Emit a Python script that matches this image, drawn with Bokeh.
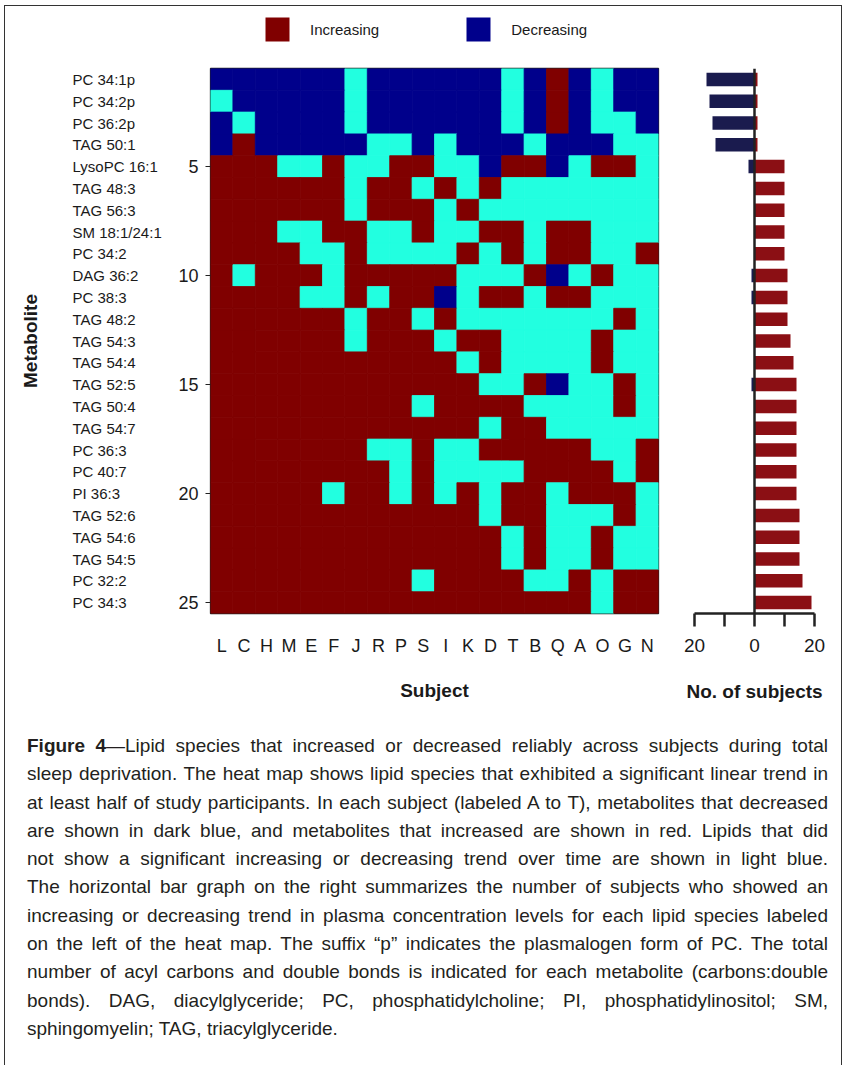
import math
from bokeh.plotting import figure
from bokeh.models import (ColumnDataSource, Range1d, FixedTicker, Legend, LegendItem,
                          Span, Div)
from bokeh.core.properties import value
from bokeh.layouts import row, column
from bokeh.transform import factor_cmap
from bokeh.embed import file_html
from bokeh.resources import INLINE

# ---------------- data ----------------
subjects = ["L", "C", "H", "M", "E", "F", "J", "R", "P", "S",
            "I", "K", "D", "T", "B", "Q", "A", "O", "G", "N"]
metabolites = ["PC 34:1p", "PC 34:2p", "PC 36:2p", "TAG 50:1", "LysoPC 16:1",
               "TAG 48:3", "TAG 56:3", "SM 18:1/24:1", "PC 34:2", "DAG 36:2",
               "PC 38:3", "TAG 48:2", "TAG 54:3", "TAG 54:4", "TAG 52:5",
               "TAG 50:4", "TAG 54:7", "PC 36:3", "PC 40:7", "PI 36:3",
               "TAG 52:6", "TAG 54:6", "TAG 54:5", "PC 32:2", "PC 34:3"]
# I = increasing, D = decreasing, N = no significant trend (one char per subject)
trend_rows = [
    "DDDDDDNDDDDDDNDIDNDD",
    "NDDDDDNDDDDDDNDIDNDD",
    "DNDDDDNDDDDDDNDIDNND",
    "DIDDDDDNNDNDDDNDDDNN",
    "IIINNINNIINNDIIDNIIN",
    "IIIIIINIINININNNNNNN",
    "IIIIIINIIININNNNNNNN",
    "IIINNIINNINNIINIINNN",
    "IIIINNINNNNININIINNI",
    "INIIINIIIIINNNIDNINN",
    "IIIINNINIIDNIINIINNN",
    "IIIIIINIININNNNNNNIN",
    "IIIIIINIIINIINNNNINN",
    "IIIIIIIIIIININNNNINN",
    "IIIIIIIIIIIINNIDNNIN",
    "IIIIIIIIINIIIINNNNIN",
    "IIIIIIIIIIIINIINNNNN",
    "IIIIIIINNINNIIIIINNI",
    "IIIIIIIININNNNIIIINI",
    "IIIIINIINININIINIIIN",
    "IIIIIIIIIIIINIINNNIN",
    "IIIIIIIIIIIIININNINN",
    "IIIIIIIIIIIIININNINN",
    "IIIIIIIIINIIIINNINII",
    "IIIIIIIIIIIIIIIIINII",
]
n_increasing = [1, 1, 1, 1, 10, 10, 10, 10, 10, 11, 11, 11, 12, 13, 14,
                14, 14, 14, 14, 14, 15, 15, 15, 16, 19]
n_decreasing = [16, 15, 14, 13, 2, 0, 0, 0, 0, 1, 1, 0, 0, 0, 1,
                0, 0, 0, 0, 0, 0, 0, 0, 0, 0]
legend_labels = ["Increasing", "Decreasing"]
legend_codes = ["I", "D"]
y_ticks = [5, 10, 15, 20, 25]
bar_ticks = [-20, -10, 0, 10, 20]
bar_tick_labels = ["20", "", "0", "", "20"]

caption_lines = [
    "<b>Figure 4</b>\u2014Lipid species that increased or decreased reliably across subjects during total",
    "sleep deprivation. The heat map shows lipid species that exhibited a significant linear trend in",
    "at least half of study participants. In each subject (labeled A to T), metabolites that decreased",
    "are shown in dark blue, and metabolites that increased are shown in red. Lipids that did",
    "not show a significant increasing or decreasing trend over time are shown in light blue.",
    "The horizontal bar graph on the right summarizes the number of subjects who showed an",
    "increasing or decreasing trend in plasma concentration levels for each lipid species labeled",
    "on the left of the heat map. The suffix \u201cp\u201d indicates the plasmalogen form of PC. The total",
    "number of acyl carbons and double bonds is indicated for each metabolite (carbons:double",
    "bonds). DAG, diacylglyceride; PC, phosphatidylcholine; PI, phosphatidylinositol; SM,",
    "sphingomyelin; TAG, triacylglyceride.",
]

# ---------------- styles ----------------
FONT = "Liberation Sans"
RED, BLUE, CYAN = "#800000", "#00008B", "#22FFE0"
BAR_RED, BAR_BLUE = "#8B0F14", "#1A1B4E"
TXT = "#1a1a1a"

n_rows = len(metabolites)
yr = (n_rows + 0.5, 0.5)
ROW_H = 647
TOP, BOTTOM = 2, 100
cmap = factor_cmap("status", [RED, BLUE, CYAN], ["I", "D", "N"])

# ---------------- legend strip ----------------
leg_fig = figure(width=836, height=60, x_range=Range1d(0, 1), y_range=Range1d(0, 1),
                 output_backend="svg", toolbar_location=None,
                 x_axis_location=None, y_axis_location=None,
                 min_border_left=0, min_border_right=0, min_border_top=0, min_border_bottom=0)
leg_fig.xgrid.visible = False
leg_fig.ygrid.visible = False
leg_fig.outline_line_color = None
# zero-size swatches: they draw nothing in the strip, only feed the legend's colours
leg_src = ColumnDataSource(dict(x=[0.5] * len(legend_codes), y=[0.5] * len(legend_codes),
                                status=legend_codes))
leg_r = leg_fig.rect(x="x", y="y", width=0, height=0, source=leg_src,
                     fill_color=cmap, line_color=None)
legend = Legend(items=[LegendItem(label=l, renderers=[leg_r], index=k)
                       for k, l in enumerate(legend_labels)],
                orientation="horizontal", location=(257, 22),
                glyph_width=30, glyph_height=30, label_standoff=18, spacing=84,
                padding=0, margin=0, border_line_color=None,
                background_fill_alpha=0, label_text_font=FONT,
                label_text_font_size="15px", label_text_color=TXT)
leg_fig.add_layout(legend)

# ---------------- metabolite names ----------------
names = figure(width=165, height=ROW_H, x_range=Range1d(0, 165), y_range=Range1d(*yr),
               output_backend="svg", toolbar_location=None,
               x_axis_location=None, y_axis_location=None,
               min_border_left=0, min_border_right=0, min_border_top=TOP,
               min_border_bottom=BOTTOM)
names.xgrid.visible = False
names.ygrid.visible = False
names.outline_line_color = None
name_src = ColumnDataSource(dict(y=list(range(1, n_rows + 1)), name=metabolites))
names.text(x=67, y="y", text="name", source=name_src, text_align="left",
           text_baseline="middle", text_font=value(FONT), text_font_size="15px",
           text_color=TXT)
names.text(x=[25], y=[(n_rows + 1) / 2], text=["Metabolite"], angle=math.pi / 2,
           text_align="center", text_baseline="middle", text_font=value(FONT),
           text_font_style="bold", text_font_size="19px", text_color=TXT)

# ---------------- heat map ----------------
hx, hy, hs = [], [], []
for i, r in enumerate(trend_rows):
    for j, s in enumerate(r):
        hx.append(j + 0.5)
        hy.append(i + 1)
        hs.append(s)
heat_src = ColumnDataSource(dict(x=hx, y=hy, status=hs))

heat = figure(width=503, height=ROW_H, x_range=Range1d(0, len(subjects)),
              y_range=Range1d(*yr), output_backend="svg", toolbar_location=None,
              min_border_left=40, min_border_right=15, min_border_top=TOP,
              min_border_bottom=BOTTOM)
heat.rect(x="x", y="y", width=1, height=1, source=heat_src,
          fill_color=cmap, line_color=cmap, line_width=0.8)
heat.xgrid.visible = False
heat.ygrid.visible = False
heat.outline_line_color = "#222222"
heat.outline_line_width = 1.3

xa = heat.xaxis[0]
xa.ticker = FixedTicker(ticks=[j + 0.5 for j in range(len(subjects))])
xa.major_label_overrides = {j + 0.5: s for j, s in enumerate(subjects)}
xa.axis_line_color = None
xa.major_tick_out = 0
xa.major_tick_in = 0
xa.minor_tick_line_color = None
xa.major_label_standoff = 22
xa.major_label_text_font = FONT
xa.major_label_text_font_size = "18px"
xa.major_label_text_color = TXT
xa.axis_label = "Subject"
xa.axis_label_text_font = FONT
xa.axis_label_text_font_style = "bold"
xa.axis_label_text_font_size = "19px"
xa.axis_label_text_color = TXT
xa.axis_label_standoff = 21

ya = heat.yaxis[0]
ya.ticker = FixedTicker(ticks=y_ticks)
ya.axis_line_color = None
ya.major_tick_out = 5
ya.major_tick_in = 0
ya.major_tick_line_color = "#222222"
ya.minor_tick_line_color = None
ya.major_label_standoff = 7
ya.major_label_text_font = FONT
ya.major_label_text_font_size = "18px"
ya.major_label_text_color = TXT

# ---------------- bars ----------------
bar_src = ColumnDataSource(dict(y=list(range(1, n_rows + 1)), inc=n_increasing,
                                dec=[-d for d in n_decreasing]))
bars = figure(width=168, height=ROW_H, x_range=Range1d(-21, 21), y_range=Range1d(*yr),
              output_backend="svg", toolbar_location=None, y_axis_location=None,
              min_border_left=18, min_border_right=24, min_border_top=TOP,
              min_border_bottom=BOTTOM)
bars.hbar(y="y", left=0, right="inc", height=0.62, source=bar_src,
          fill_color=BAR_RED, line_color=None)
bars.hbar(y="y", left="dec", right=0, height=0.62, source=bar_src,
          fill_color=BAR_BLUE, line_color=None)
bars.add_layout(Span(location=0, dimension="height", line_color="#222222", line_width=2.5))
bars.xgrid.visible = False
bars.ygrid.visible = False
bars.outline_line_color = None

ba = bars.xaxis[0]
ba.ticker = FixedTicker(ticks=bar_ticks)
ba.major_label_overrides = dict(zip(bar_ticks, bar_tick_labels))
ba.bounds = (bar_ticks[0], bar_ticks[-1])
ba.axis_line_color = "#222222"
ba.axis_line_width = 2.5
ba.major_tick_line_color = "#222222"
ba.major_tick_line_width = 2.5
ba.major_tick_out = 13
ba.major_tick_in = 0
ba.minor_tick_line_color = None
ba.major_label_standoff = 12
ba.major_label_text_font = FONT
ba.major_label_text_font_size = "19px"
ba.major_label_text_color = TXT
ba.axis_label = "No. of subjects"
ba.axis_label_text_font = FONT
ba.axis_label_text_font_style = "bold"
ba.axis_label_text_font_size = "19px"
ba.axis_label_text_color = TXT
ba.axis_label_standoff = 26

# ---------------- caption ----------------
inner = "".join(
    f'<div style="text-align:justify;text-align-last:justify;">{l}</div>'
    for l in caption_lines[:-1]) + f'<div>{caption_lines[-1]}</div>'
html = (f'<div style="box-sizing:border-box;font-family:\'{FONT}\',Arial,sans-serif;'
        f'font-size:19px;line-height:28.3px;color:#231f20;padding:19px 13px 0 22px;'
        f'width:836px;">{inner}</div>')
caption = Div(text=html, width=836, height=352, margin=0)

layout = column(leg_fig, row(names, heat, bars), caption,
                styles={"border-left": "1.5px solid #333", "border-top": "1.5px solid #333",
                        "border-right": "1.5px solid #333"},
                margin=(5, 0, 0, 4))

open("out.html", "w").write(file_html(layout, INLINE))
